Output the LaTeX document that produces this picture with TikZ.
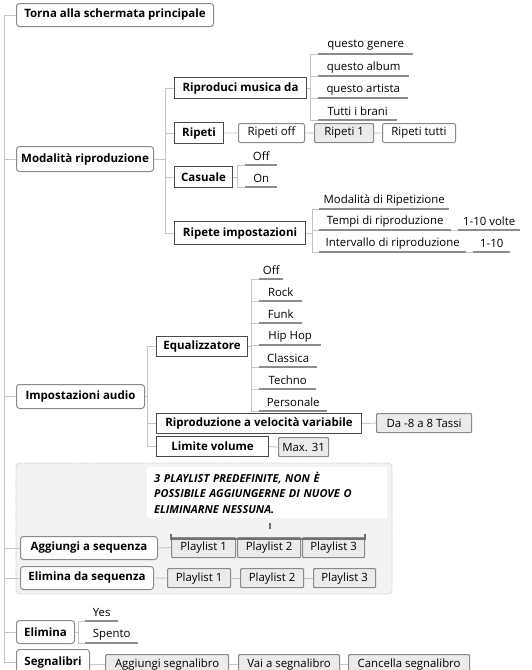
\documentclass[tikz,border=0pt]{standalone}
\usepackage{fontspec}
\setmainfont{Open Sans}
\usetikzlibrary{shadows,calc}
\definecolor{conn}{HTML}{C4C4C4}
\definecolor{bordA}{HTML}{8A8A8A}
\definecolor{bordB}{HTML}{4A4A4A}
\definecolor{fillg}{HTML}{EBEBEB}
\definecolor{grpfill}{HTML}{F3F3F3}
\definecolor{grpline}{HTML}{C4C4C4}
\definecolor{ulcol}{HTML}{8C8C8C}
\definecolor{brkcol}{HTML}{707070}
\begin{document}
\begin{tikzpicture}[x=1pt,y=-1pt,
  every node/.style={inner sep=0pt, font=\fontsize{11.4}{13}\selectfont, text=black},
  l1/.style={draw=bordA, line width=1pt, rounded corners=3pt, fill=white, anchor=north west,
    font=\fontsize{11.5}{13}\selectfont\bfseries},
  l2/.style={draw=bordB, line width=1.1pt, fill=white, anchor=north west,
    font=\fontsize{11.5}{13}\selectfont\bfseries,
    drop shadow={shadow xshift=0.9pt, shadow yshift=-0.9pt, fill=black, opacity=0.3}},
  l3/.style={draw=bordA, line width=1pt, rounded corners=2pt, fill=white, anchor=north west},
  g3/.style={draw=bordA, line width=1.2pt, rounded corners=1pt, fill=fillg, anchor=north west},
  ul/.style={anchor=south west, minimum height=17pt},
  conn/.style={draw=conn, line width=0.9pt},
  ulc/.style={draw=ulcol, line width=1.4pt},
  brk/.style={draw=brkcol, line width=1.5pt},
]
\useasboundingbox (0,0) rectangle (531,670);
\clip (0,0) rectangle (531,670);

% group background
\path[draw=grpline, fill=grpfill, line width=0.8pt, dash pattern=on 0.9pt off 0.9pt, rounded corners=4pt]
  (16,463) rectangle (392,594);

% level 1
\node[l1, minimum width=197pt, minimum height=23pt] (torna) at (16,3) {Torna alla schermata principale};
\node[l1, minimum width=137pt, minimum height=25pt] (modal) at (16,146) {Modalità riproduzione};
\node[l1, minimum width=128pt, minimum height=24pt] (impost) at (16,384) {Impostazioni audio};
\node[l1, minimum width=137pt, minimum height=23pt] (aggiungi) at (20,536) {Aggiungi a sequenza};
\node[l1, minimum width=133pt, minimum height=23pt] (elimseq) at (20,566) {Elimina da sequenza};
\node[l1, minimum width=58pt, minimum height=23pt] (elimina) at (16,620) {Elimina};
\node[l1, minimum width=73pt, minimum height=26pt] (segnal) at (16,649) {Segnalibri};

% level 2
\node[l2, minimum width=132pt, minimum height=21pt] (ripmus) at (174,77) {Riproduci musica da};
\node[l2, minimum width=49pt, minimum height=21pt] (ripeti) at (174,122) {Ripeti};
\node[l2, minimum width=58pt, minimum height=21pt] (casuale) at (174,166) {Casuale};
\node[l2, minimum width=131pt, minimum height=23pt] (ripimp) at (174,221) {Ripete impostazioni};
\node[l2, minimum width=91pt, minimum height=20pt] (equal) at (156,336) {Equalizzatore};
\node[l2, minimum width=205pt, minimum height=20pt] (ripvel) at (156,413) {Riproduzione a velocità variabile};
\node[l2, minimum width=112pt, minimum height=20pt] (limvol) at (156,436) {Limite volume};

% level 3 boxes
\node[l3, minimum width=66pt, minimum height=19pt] (ripoff) at (238,123) {Ripeti off};
\node[g3, minimum width=59pt, minimum height=19pt] (rip1) at (314,123) {Ripeti 1};
\node[l3, minimum width=73pt, minimum height=19pt] (riptutti) at (382,123) {Ripeti tutti};
\node[g3, minimum width=95pt, minimum height=19pt] (tassi) at (376,413) {Da -8 a 8 Tassi};
\node[g3, minimum width=50pt, minimum height=19pt] (max31) at (278,437) {Max. 31};

\node[g3, minimum width=64pt, minimum height=20pt] (a1) at (171,537) {Playlist 1};
\node[g3, minimum width=63pt, minimum height=20pt] (a2) at (237,537) {Playlist 2};
\node[g3, minimum width=62pt, minimum height=20pt] (a3) at (302,537) {Playlist 3};
\node[g3, minimum width=63pt, minimum height=19pt] (e1) at (167,568) {Playlist 1};
\node[g3, minimum width=63pt, minimum height=19pt] (e2) at (240,568) {Playlist 2};
\node[g3, minimum width=62pt, minimum height=19pt] (e3) at (313,568) {Playlist 3};

\node[g3, minimum width=123pt, minimum height=20pt] (sg1) at (105,654) {Aggiungi segnalibro};
\node[g3, minimum width=101pt, minimum height=20pt] (sg2) at (238,654) {Vai a segnalibro};
\node[g3, minimum width=121pt, minimum height=20pt] (sg3) at (348,654) {Cancella segnalibro};

% callout
\node[anchor=north west, fill=white, rounded corners=2pt, minimum width=240pt, minimum height=51pt,
  text width=226pt, align=left, inner xsep=7pt, inner ysep=3pt,
  font=\fontsize{11}{15.5}\selectfont\bfseries\itshape] (note) at (147,467)
  {3 PLAYLIST PREDEFINITE, NON È\\POSSIBILE AGGIUNGERNE DI NUOVE O\\ELIMINARNE NESSUNA.};

% underline nodes
\node[ul, minimum width=95pt] (genere) at (318,54) {questo genere};
\node[ul, minimum width=91pt] (album) at (318,76) {questo album};
\node[ul, minimum width=90pt] (artista) at (318,98) {questo artista};
\node[ul, minimum width=79pt] (brani) at (318,120) {Tutti i brani};
\node[ul, minimum width=32pt] (coff) at (245,165) {Off};
\node[ul, minimum width=32pt] (con) at (245,187) {On};
\node[ul, minimum width=130pt] (modrip) at (319,209) {Modalità di Ripetizione};
\node[ul, minimum width=132pt] (tempi) at (319,230) {Tempi di riproduzione};
\node[ul, minimum width=62pt] (volte) at (458,230) {1-10 volte};
\node[ul, minimum width=147pt] (interv) at (319,252) {Intervallo di riproduzione};
\node[ul, minimum width=37pt] (uno10) at (473,252) {1-10};
\node[ul, minimum width=24pt] (eqoff) at (259,279) {Off};
\node[ul, minimum width=43pt] (rock) at (259,301) {Rock};
\node[ul, minimum width=43pt] (funk) at (259,323) {Funk};
\node[ul, minimum width=62pt] (hiphop) at (259,345) {Hip Hop};
\node[ul, minimum width=58pt] (classica) at (259,367) {Classica};
\node[ul, minimum width=57pt] (techno) at (259,389) {Techno};
\node[ul, minimum width=68pt] (personale) at (259,411) {Personale};
\node[ul, minimum width=33pt] (yes) at (85,621) {Yes};
\node[ul, minimum width=53pt] (spento) at (85,643) {Spento};

% spine coordinates
\coordinate (tk) at (4,0);
\coordinate (sm) at (165,0);
\coordinate (sia) at (147,0);
\coordinate (srm) at (310,0);
\coordinate (sca) at (237,0);
\coordinate (sri) at (312,0);
\coordinate (seq) at (251,0);
\coordinate (sel) at (78,0);
\coordinate (bm) at (270,529);

% trunk
\draw[conn] (torna.west) -| (tk |- segnal.west) -- (segnal.west);
\foreach \n in {modal,impost,aggiungi,elimseq,elimina} \draw[conn] (\n.west) -- (\n.west -| tk);

% modalita
\draw[conn] (modal.east) -- (modal.east -| sm);
\draw[conn] (ripmus.west) -| (sm |- ripimp.west) -- (ripimp.west);
\foreach \n in {ripeti,casuale} \draw[conn] (\n.west) -- (\n.west -| sm);

\draw[conn] (ripmus.east) -- (ripmus.east -| srm);
\draw[conn] (genere.south west) -| (srm |- brani.south west) -- (brani.south west);
\foreach \n in {album,artista} \draw[conn] (\n.south west) -- (\n.south west -| srm);

\draw[conn] (ripeti.east) -- (ripoff.west);
\draw[conn] (ripoff.east) -- (rip1.west);
\draw[conn] (rip1.east) -- (riptutti.west);

\draw[conn] (casuale.east) -- (casuale.east -| sca);
\draw[conn] (coff.south west) -| (sca |- con.south west) -- (con.south west);

\draw[conn] (ripimp.east) -- (ripimp.east -| sri);
\draw[conn] (modrip.south west) -| (sri |- interv.south west) -- (interv.south west);
\draw[conn] (tempi.south west) -- (tempi.south west -| sri);
\draw[conn] (tempi.south east) -- (volte.south west);
\draw[conn] (interv.south east) -- (uno10.south west);

% impostazioni
\draw[conn] (impost.east) -- (impost.east -| sia);
\draw[conn] (equal.west) -| (sia |- limvol.west) -- (limvol.west);
\draw[conn] (ripvel.west) -- (ripvel.west -| sia);
\draw[conn] (equal.east) -- (equal.east -| seq);
\draw[conn] (eqoff.south west) -| (seq |- personale.south west) -- (personale.south west);
\foreach \n in {rock,funk,hiphop,classica,techno} \draw[conn] (\n.south west) -- (\n.south west -| seq);
\draw[conn] (ripvel.east) -- (tassi.west);
\draw[conn] (limvol.east) -- (max31.west);

% sequences
\draw[conn] (aggiungi.east) -- (a1.west);
\draw[conn] (a1.east) -- (a2.west);
\draw[conn] (a2.east) -- (a3.west);
\draw[conn] (elimseq.east) -- (e1.west);
\draw[conn] (e1.east) -- (e2.west);
\draw[conn] (e2.east) -- (e3.west);
\draw[brk] ([yshift=3pt]a1.north west) -- ++(0,5) -| ([yshift=3pt]a3.north east);
\draw[brk] (bm) -- ++(0,-6);

% elimina / segnalibri
\draw[conn] (elimina.east) -- (elimina.east -| sel);
\draw[conn] (yes.south west) -| (sel |- spento.south west) -- (spento.south west);
\draw[conn] (segnal.east |- sg1.west) -- (sg1.west);
\draw[conn] (sg1.east) -- (sg2.west);
\draw[conn] (sg2.east) -- (sg3.west);

% underlines
\foreach \n in {genere,album,artista,brani,coff,con,modrip,tempi,volte,interv,uno10,eqoff,rock,funk,hiphop,classica,techno,personale,yes,spento}
  \draw[ulc] (\n.south west) -- (\n.south east);
\end{tikzpicture}
\end{document}
